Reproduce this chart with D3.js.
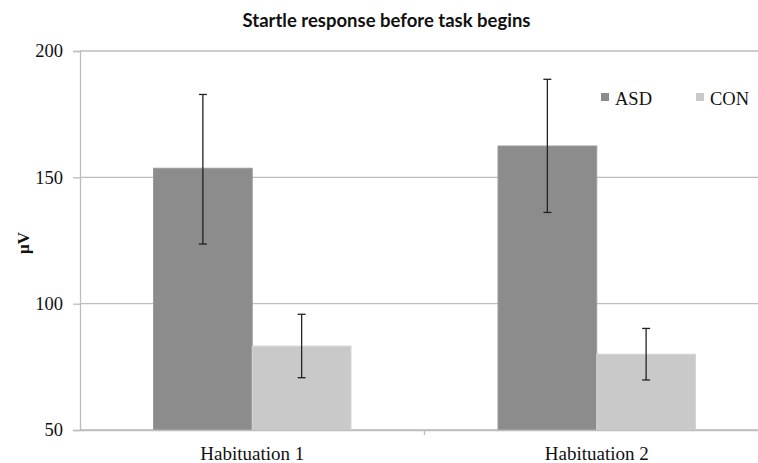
<!DOCTYPE html>
<html>
<head>
<meta charset="utf-8">
<script src="https://cdn.jsdelivr.net/npm/d3@7"></script>
<style>
  body { margin: 0; background: #fff; }
  svg { display: block; }
</style>
</head>
<body>
<svg id="chart" width="758" height="463"></svg>
<script>
// values
var categories = ["Habituation 1", "Habituation 2"];
var groups = ["ASD", "CON"];
var asdMean = [153.6, 162.4];
var asdLow = [123.6, 136.1];
var asdHigh = [182.8, 188.8];
var conMean = [83.2, 80.0];
var conLow = [70.7, 69.8];
var conHigh = [95.8, 90.2];
var yTicks = [50, 100, 150, 200];

var colors = { ASD: "#8c8c8c", CON: "#c9c9c9" };

var rows = [];
categories.forEach(function(c, i) {
    rows.push({ cat: c, grp: "ASD", v: asdMean[i], lo: asdLow[i], hi: asdHigh[i] });
    rows.push({ cat: c, grp: "CON", v: conMean[i], lo: conLow[i], hi: conHigh[i] });
});

var svg = d3.select("#chart");
// note: "top" is taken by window.top, so plot edges get their own names
var plotL = 80, plotR = 769, plotT = 51, plotB = 430;

var y = d3.scaleLinear().domain([50, 200]).range([plotB, plotT]);
var x = d3.scaleBand().domain(categories).range([plotL, plotR]).paddingInner(0).paddingOuter(0);
var inner = d3.scaleBand().domain(groups).range([73.5, x.bandwidth() - 73.5]);

// gridlines
svg.append("g")
  .selectAll("line")
  .data(yTicks)
  .enter().append("line")
    .attr("x1", plotL).attr("x2", plotR)
    .attr("y1", function(d) { return y(d); })
    .attr("y2", function(d) { return y(d); })
    .attr("stroke", "#bdbdbd")
    .attr("stroke-width", 1.3);

// y axis
var ya = svg.append("g")
    .attr("transform", "translate(" + plotL + ",0)")
    .call(d3.axisLeft(y).tickValues(yTicks).tickSize(7).tickPadding(10));
ya.select(".domain").attr("stroke", "#bdbdbd").attr("stroke-width", 1.3);
ya.selectAll(".tick line").attr("stroke", "#bdbdbd").attr("stroke-width", 1.3);
ya.selectAll("text")
    .attr("font-family", "Liberation Serif")
    .attr("font-size", 18.5)
    .attr("fill", "#111");

// bars
svg.append("g")
  .selectAll("rect")
  .data(rows)
  .enter().append("rect")
    .attr("x", function(d) { return x(d.cat) + inner(d.grp); })
    .attr("width", inner.bandwidth())
    .attr("y", function(d) { return y(d.v); })
    .attr("height", function(d) { return y(50) - y(d.v); })
    .attr("fill", function(d) { return colors[d.grp]; })
    .attr("stroke", function(d) { return d.grp == "ASD" ? "#9a9a9a" : "#d4d4d4"; })
    .attr("stroke-width", 1);

// x axis
var xa = svg.append("g")
    .attr("transform", "translate(0," + plotB + ")")
    .call(d3.axisBottom(x).tickSize(0).tickPadding(16.5));
xa.select(".domain").attr("stroke", "#bdbdbd").attr("stroke-width", 1.3);
xa.selectAll("text")
    .attr("font-family", "Liberation Serif")
    .attr("font-size", 19)
    .attr("fill", "#111");
xa.append("line")
    .attr("x1", x(categories[1])).attr("x2", x(categories[1]))
    .attr("y1", 0).attr("y2", 5)
    .attr("stroke", "#bdbdbd").attr("stroke-width", 1.3);

// error bars
var eb = svg.append("g")
  .selectAll("g")
  .data(rows)
  .enter().append("g")
    .attr("stroke", "#222")
    .attr("stroke-width", 1.3);
eb.append("line")
    .attr("x1", function(d) { return x(d.cat) + inner(d.grp) + inner.bandwidth() / 2; })
    .attr("x2", function(d) { return x(d.cat) + inner(d.grp) + inner.bandwidth() / 2; })
    .attr("y1", function(d) { return y(d.hi); })
    .attr("y2", function(d) { return y(d.lo); });
["hi", "lo"].forEach(function(k) {
    eb.append("line")
        .attr("x1", function(d) { return x(d.cat) + inner(d.grp) + inner.bandwidth() / 2 - 4; })
        .attr("x2", function(d) { return x(d.cat) + inner(d.grp) + inner.bandwidth() / 2 + 4; })
        .attr("y1", function(d) { return y(d[k]); })
        .attr("y2", function(d) { return y(d[k]); });
});

// legend
var lg = svg.append("g")
  .selectAll("g")
  .data(groups)
  .enter().append("g")
    .attr("transform", function(d, i) { return "translate(" + (601 + i * 95) + ",93)"; });
lg.append("rect")
    .attr("width", 8).attr("height", 8)
    .attr("fill", function(d) { return colors[d]; });
lg.append("text")
    .attr("x", 14).attr("y", 11.5)
    .attr("font-family", "Liberation Serif")
    .attr("font-size", 18.5)
    .attr("fill", "#111")
    .text(function(d) { return d; });

// title
svg.append("text")
    .attr("x", 386.5).attr("y", 27)
    .attr("text-anchor", "middle")
    .attr("font-family", "Lato")
    .attr("font-weight", "bold")
    .attr("font-size", 18.5)
    .attr("fill", "#111")
    .text("Startle response before task begins");

// y label
svg.append("text")
    .attr("transform", "translate(29,243) rotate(-90)")
    .attr("text-anchor", "middle")
    .attr("font-family", "Liberation Serif")
    .attr("font-weight", "bold")
    .attr("font-size", 17)
    .attr("fill", "#111")
    .text("μV");
</script>
</body>
</html>
